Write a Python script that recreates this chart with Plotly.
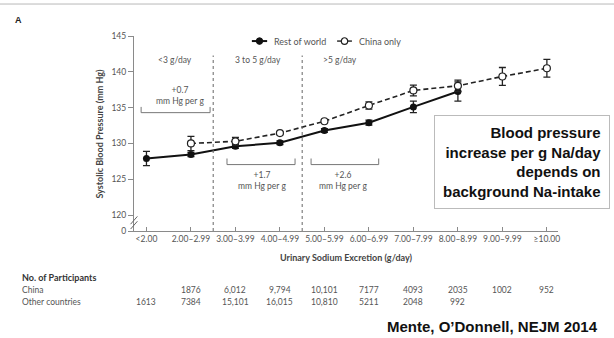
import plotly.graph_objects as go

# ---------------- data ----------------
CATEGORIES = ["<2.00", "2.00–2.99", "3.00–3.99", "4.00–4.99", "5.00–5.99",
              "6.00–6.99", "7.00–7.99", "8.00–8.99", "9.00–9.99", "≥10.00"]

ROW_CATS = CATEGORIES[:8]
ROW_BP = [127.9, 128.45, 129.6, 130.1, 131.8, 132.9, 135.1, 137.25]
ROW_ERR = [1.0, 0.3, 0.3, 0.25, 0.25, 0.35, 0.8, 1.35]

CHINA_CATS = CATEGORIES[1:]
CHINA_BP = [130.0, 130.3, 131.45, 133.1, 135.3, 137.4, 138.05, 139.35, 140.5]
CHINA_ERR = [1.0, 0.55, 0.2, 0.2, 0.5, 0.75, 0.8, 1.25, 1.25]

Y_TICK_LABELS = ["0", "120", "125", "130", "135", "140", "145"]
Y_TICK_VALUES = [117.78, 120, 125, 130, 135, 140, 145]

CHINA_N = ["", "1876", "6,012", "9,794", "10,101", "7177", "4093", "2035", "1002", "952"]
OTHER_N = ["1613", "7384", "15,101", "16,015", "10,810", "5211", "2048", "992", "", ""]

ZONES = ["<3 g/day", "3 to 5 g/day", ">5 g/day"]
SLOPES = ["+0.7", "+1.7", "+2.6"]

# ---------------- style ----------------
FONT = "Lato, 'Open Sans', sans-serif"
GRAY_TXT = "#555555"
AX = "#8a8a8a"

fig = go.Figure()

fig.add_trace(go.Scatter(
    x=ROW_CATS, y=ROW_BP, mode="lines+markers", name="Rest of world",
    line=dict(color="#111111", width=2),
    marker=dict(symbol="circle", size=7, color="#111111"),
    error_y=dict(type="data", array=ROW_ERR, color="#222222", thickness=1.3, width=3.5),
    showlegend=False))

fig.add_trace(go.Scatter(
    x=CHINA_CATS, y=CHINA_BP, mode="lines+markers", name="China only",
    line=dict(color="#222222", width=1.6, dash="5px,3px"),
    marker=dict(symbol="circle", size=7, color="white", line=dict(color="#222222", width=1.2)),
    error_y=dict(type="data", array=CHINA_ERR, color="#222222", thickness=1.3, width=3.5),
    showlegend=False))

shapes = []
# top border line
shapes.append(dict(type="line", xref="paper", yref="paper", x0=-0.32, x1=1.14, y0=1.164, y1=1.164,
                   line=dict(color="#b8b8b8", width=1)))
# dashed zone separators
for xv in (1.5, 3.5):
    shapes.append(dict(type="line", xref="x", yref="paper", x0=xv, x1=xv, y0=0, y1=0.9,
                       line=dict(color="#666666", width=1, dash="dot")))
# brackets
brackets = [(-0.12, 1.43, 134.3, 135.1), (1.81, 3.34, 127.05, 127.9), (3.70, 5.22, 127.05, 127.9)]
for x0, x1, yb, yt in brackets:
    shapes.append(dict(type="line", xref="x", yref="y", x0=x0, x1=x1, y0=yb, y1=yb,
                       line=dict(color="#777777", width=1)))
    for xe in (x0, x1):
        shapes.append(dict(type="line", xref="x", yref="y", x0=xe, x1=xe, y0=yb, y1=yt,
                           line=dict(color="#777777", width=1)))
# axis break marks
for dy in (0.0, 0.025):
    shapes.append(dict(type="line", xref="paper", yref="paper", x0=-0.008, x1=0.008,
                       y0=0.01 + dy, y1=0.05 + dy, line=dict(color="#666666", width=1)))
# manual legend
LEG_Y = 0.974
shapes.append(dict(type="line", xref="paper", yref="paper", x0=0.278, x1=0.314, y0=LEG_Y, y1=LEG_Y,
                   line=dict(color="#111111", width=2)))
shapes.append(dict(type="circle", xref="paper", yref="paper", x0=0.2885, x1=0.3035,
                   y0=LEG_Y - 0.017, y1=LEG_Y + 0.017, fillcolor="#111111", line=dict(color="#111111", width=1)))
shapes.append(dict(type="line", xref="paper", yref="paper", x0=0.479, x1=0.514, y0=LEG_Y, y1=LEG_Y,
                   line=dict(color="#222222", width=1.4)))
shapes.append(dict(type="circle", xref="paper", yref="paper", x0=0.489, x1=0.504,
                   y0=LEG_Y - 0.017, y1=LEG_Y + 0.017, fillcolor="white", line=dict(color="#222222", width=1.2)))

ann = []
ann.append(dict(text="Rest of world", xref="paper", yref="paper", x=0.325, y=LEG_Y, xanchor="left",
                yanchor="middle", showarrow=False, font=dict(family=FONT, size=9, color=GRAY_TXT)))
ann.append(dict(text="China only", xref="paper", yref="paper", x=0.526, y=LEG_Y, xanchor="left",
                yanchor="middle", showarrow=False, font=dict(family=FONT, size=9, color=GRAY_TXT)))

# zone labels
for txt, xv in zip(ZONES, (0.64, 2.51, 4.35)):
    ann.append(dict(text=txt, xref="x", yref="y", x=xv, y=141.7, showarrow=False,
                    font=dict(family=FONT, size=8.5, color=GRAY_TXT)))
# slope labels
for txt, xv, yv in zip(SLOPES, (0.75, 2.6, 4.42), (136.7, 124.85, 124.85)):
    ann.append(dict(text=txt + "<br>mm Hg per g", xref="x", yref="y", x=xv, y=yv, showarrow=False,
                    font=dict(family=FONT, size=8.5, color=GRAY_TXT)))

# panel letter
ann.append(dict(text="<b>A</b>", xref="paper", yref="paper", x=-0.272, y=1.08, xanchor="center",
                yanchor="middle", showarrow=False, font=dict(family="Arial, 'Liberation Sans'", size=9, color="#222222")))

# y axis title
ann.append(dict(text="<b>Systolic Blood Pressure (mm Hg)</b>", xref="paper", yref="paper", x=-0.1, y=0.5,
                textangle=-90, showarrow=False, font=dict(family=FONT, size=9, color="#444444")))

# table
ann.append(dict(text="<b>No. of Participants</b>", xref="paper", yref="paper", x=-0.269, y=-0.236,
                xanchor="left", yanchor="middle", showarrow=False, font=dict(family=FONT, size=9, color="#333333")))
ann.append(dict(text="China", xref="paper", yref="paper", x=-0.269, y=-0.3,
                xanchor="left", yanchor="middle", showarrow=False, font=dict(family=FONT, size=8.5, color=GRAY_TXT)))
ann.append(dict(text="Other countries", xref="paper", yref="paper", x=-0.269, y=-0.365,
                xanchor="left", yanchor="middle", showarrow=False, font=dict(family=FONT, size=8.5, color=GRAY_TXT)))
for cat, cn, on in zip(CATEGORIES, CHINA_N, OTHER_N):
    if cn:
        ann.append(dict(text=cn, xref="x", yref="paper", x=cat, y=-0.3, yanchor="middle", showarrow=False,
                        font=dict(family=FONT, size=8.5, color=GRAY_TXT)))
    if on:
        ann.append(dict(text=on, xref="x", yref="paper", x=cat, y=-0.365, yanchor="middle", showarrow=False,
                        font=dict(family=FONT, size=8.5, color=GRAY_TXT)))

# text box
ann.append(dict(text="<b>Blood pressure<br>increase per g Na/day<br>depends on<br>background Na-intake</b>",
                xref="paper", yref="paper", x=0.914, y=0.354, xanchor="center", yanchor="middle",
                align="right", showarrow=False, bgcolor="white", bordercolor="#bbbbbb", borderwidth=1,
                borderpad=8, font=dict(family="Arial, 'Liberation Sans'", size=15, color="#111111")))

# citation
ann.append(dict(text="<b>Mente, O’Donnell, NEJM 2014</b>", xref="paper", yref="paper", x=1.099, y=-0.488,
                xanchor="right", yanchor="middle", showarrow=False,
                font=dict(family="Arial, 'Liberation Sans'", size=15, color="#111111")))

fig.update_layout(
    width=614, height=338,
    margin=dict(l=134, r=56, t=36, b=107, autoexpand=False),
    paper_bgcolor="white", plot_bgcolor="white",
    shapes=shapes, annotations=ann,
    font=dict(family=FONT, color=GRAY_TXT),
    xaxis=dict(type="category", categoryorder="array", categoryarray=CATEGORIES,
               range=[-0.28, 9.25], showgrid=False, zeroline=False, automargin=False,
               showline=True, linecolor=AX, linewidth=1.2,
               ticks="inside", ticklen=4, tickcolor=AX, tickangle=0,
               tickfont=dict(family=FONT, size=8.5, color=GRAY_TXT),
               title=dict(text="<b>Urinary Sodium Excretion (g/day)</b>", standoff=11,
                          font=dict(family=FONT, size=9, color="#444444"))),
    yaxis=dict(range=[117.78, 145], showgrid=False, zeroline=False, automargin=False,
               showline=True, linecolor=AX, linewidth=1.2,
               tickmode="array", tickvals=Y_TICK_VALUES, ticktext=Y_TICK_LABELS,
               ticks="outside", ticklen=5, tickcolor=AX,
               tickfont=dict(family=FONT, size=8.5, color=GRAY_TXT)),
)

fig.write_html("out.html", config={"displayModeBar": False},
               post_script="document.body.style.margin='0';document.body.style.overflow='hidden';")
